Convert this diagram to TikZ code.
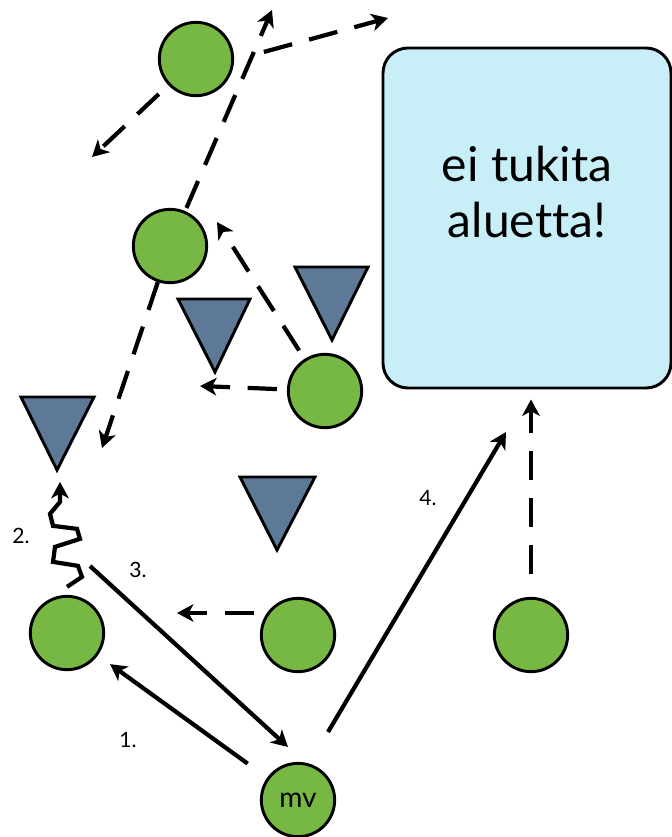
\documentclass[tikz,border=0pt]{standalone}
\usepackage{fontspec}
\setmainfont{Lato}[Ligatures=NoCommon]
\usetikzlibrary{arrows.meta}
\definecolor{ballgreen}{HTML}{76B843}
\definecolor{wedgeblue}{HTML}{5E7898}
\definecolor{zonecyan}{HTML}{C8EEF8}
\begin{document}
\begin{tikzpicture}[x=0.03cm,y=-0.03cm,
		ball/.style={circle,draw,line width=2.5pt,fill=ballgreen,minimum size=2.2cm,inner sep=0pt,font=\fontsize{24}{28}\selectfont},
		wedge/.style={draw,line width=2.5pt,fill=wedgeblue,line join=miter},
		zone/.style={draw,line width=2.5pt,fill=zonecyan,rounded corners=0.75cm,minimum width=8.64cm,minimum height=10.2cm,align=center,font=\fontsize{41}{48}\selectfont},
		move/.style={line width=3.6pt,-{Stealth[length=14pt,width=15pt,inset=4pt]}},
		hop/.style={move,dash pattern=on 25pt off 15pt},
		num/.style={font=\fontsize{18}{20}\selectfont}]
			\useasboundingbox (0,0) rectangle (672,837);
			\node[zone] (zone) at (527,218) {ei tukita\\aluetta!\\[-3pt]};
			\draw[wedge] (21,397) -- (94,397) -- (57,470) -- cycle;
			\draw[wedge] (178,299) -- (250,299) -- (215,372) -- cycle;
			\draw[wedge] (295,267) -- (368,267) -- (332,340) -- cycle;
			\draw[wedge] (240,477) -- (315,477) -- (277,550) -- cycle;
			\node[ball] (top) at (196,59) {};
			\node[ball] (mid) at (170,246) {};
			\node[ball] (right) at (325,391) {};
			\node[ball] (left) at (67,633) {};
			\node[ball] (centre) at (298,635) {};
			\node[ball] (far) at (531,635) {};
			\node[ball] (mv) at (298,800) {mv};
			\coordinate (sw) at (92,157);
			\coordinate (up) at (272,10);
			\coordinate (fork) at (260,53);
			\coordinate (ne) at (388,18);
			\coordinate (nw) at (217,222);
			\coordinate (west) at (200,386);
			\coordinate (drop) at (102,448);
			\coordinate (back) at (177,613);
			\coordinate (s3) at (90,566);
			\coordinate (t3) at (288,747);
			\coordinate (s4) at (328,732);
			\coordinate (t4) at (506,432);
			\draw[hop,shorten <=0.39cm] (top) -- (sw);
			\draw[hop,shorten <=0.1cm] (mid) -- (up);
			\draw[hop,shorten <=0.12cm] (fork) -- (ne);
			\draw[hop,shorten <=0.3cm] (right) -- (nw);
			\draw[hop,shorten <=0.3cm] (right) -- (west);
			\draw[hop] (mid) -- (drop);
			\draw[hop,shorten <=0.18cm] (centre.west |- back) -- (back);
			\draw[hop,shorten <=0.69cm,shorten >=0.3cm] (far) -- (far |- zone.south);
			\draw[move,shorten <=0.72cm,shorten >=0.45cm] (mv) -- (left);
			\draw[move] (s3) -- (t3);
			\draw[move] (s4) -- (t4);
			\draw[move,line join=miter] (left.north) ++(0,-8) -- ++(15,-10) -- ++(-4,-11) -- ++(-25,-4)
				-- ++(2,-15) -- ++(25,-8) -- ++(-3,-10) -- ++(-24,-3) -- ++(-3,-12) -- ++(10,-12) -- ++(0,-20);
			\node[num] (n1) at (128,740) {1.};
			\node[num] (n2) at (21,536) {2.};
			\node[num] (n3) at (138,570) {3.};
			\node[num] (n4) at (428,498) {4.};
		\end{tikzpicture}
\end{document}
